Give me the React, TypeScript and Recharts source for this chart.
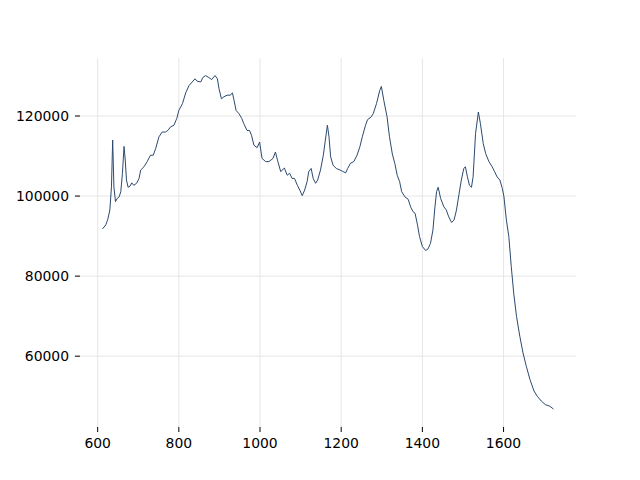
import {LineChart, Line, XAxis, YAxis, CartesianGrid} from 'recharts';

// wavelength-ish x positions and intensity values
const xValues = [
  612, 620, 625, 630, 634, 637, 640, 644, 648, 653, 657, 661, 665, 668, 671,
  675, 680, 684, 689, 696, 702, 706, 714, 722, 730, 737, 743, 751, 759, 767,
  773, 780, 788, 795, 800, 809, 817, 825, 833, 840, 845, 854, 859, 866, 874,
  881, 889, 895, 899, 905, 911, 919, 927, 932, 936, 941, 948, 955, 960, 968,
  974, 979, 985, 993, 999, 1005, 1014, 1022, 1032, 1038, 1044, 1051, 1060,
  1067, 1073, 1079, 1085, 1092, 1098, 1104, 1110, 1116, 1120, 1126, 1131,
  1137, 1142, 1149, 1156, 1161, 1166, 1170, 1174, 1180, 1188, 1197, 1203,
  1211, 1216, 1223, 1231, 1239, 1246, 1252, 1260, 1265, 1274, 1279, 1287,
  1295, 1299, 1305, 1313, 1319, 1326, 1332, 1338, 1344, 1349, 1357, 1365,
  1371, 1377, 1382, 1388, 1393, 1400, 1408, 1414, 1420, 1426, 1431, 1435,
  1439, 1445, 1453, 1459, 1465, 1472, 1478, 1484, 1490, 1496, 1502, 1506,
  1511, 1516, 1521, 1525, 1531, 1538, 1543, 1550, 1556, 1564, 1572, 1578,
  1584, 1591, 1597, 1601, 1607, 1613, 1619, 1625, 1632, 1640, 1648, 1656,
  1665, 1675, 1683, 1693, 1703, 1714, 1723,
];

const yValues = [
  91800, 92800, 94200, 96500, 102300, 114000, 102300, 98600, 99400, 99800,
  101100, 105600, 112400, 109000, 104000, 102200, 102500, 103300, 102700,
  103200, 104400, 106500, 107300, 108600, 110200, 110200, 111900, 114800,
  116000, 116000, 116400, 117300, 117700, 119400, 121400, 123100, 125800,
  127600, 128500, 129300, 128700, 128500, 129600, 130100, 129600, 129100,
  130100, 129300, 126800, 124300, 124800, 125200, 125200, 125800, 123900,
  121400, 120600, 119400, 118100, 116400, 116400, 115200, 112700, 112100,
  113500, 109400, 108600, 108600, 109400, 111000, 108600, 106100, 107000,
  105200, 105700, 104400, 104400, 102700, 101500, 100100, 101500, 103600,
  106100, 106900, 104400, 103200, 104000, 106500, 110200, 114000, 117700,
  114800, 109800, 107700, 106900, 106500, 106200, 105800, 106900, 108200,
  108600, 110200, 112300, 114800, 117700, 119100, 119800, 120600, 123100,
  126400, 127400, 123900, 119800, 114800, 110500, 108200, 105200, 103600,
  101100, 99800, 99200, 97300, 96100, 95700, 92800, 89900, 87400, 86400,
  86800, 88200, 91500, 97300, 101100, 102200, 99400, 97300, 96500, 94800,
  93400, 94000, 96500, 100300, 104000, 106900, 107300, 104800, 102700,
  102200, 104800, 115600, 121000, 118100, 113100, 110600, 108600, 107300,
  106100, 104800, 104000, 101900, 99800, 94000, 89900, 82400, 75800, 69900,
  65000, 60800, 57500, 54200, 51300, 50000, 48800, 47900, 47500, 46800,
];

const xTicks = [600, 800, 1000, 1200, 1400, 1600];
const yTicks = [60000, 80000, 100000, 120000];

const data = xValues.map((x, i) => ({x, y: yValues[i]}));

const tickStyle = {
  fontSize: 13.9,
  fill: '#000',
  fontFamily: '"DejaVu Sans", sans-serif',
};

export default function App() {
  return (
    <div style={{position: 'absolute', left: 0, top: 0, background: '#fff'}}>
      <LineChart
        width={640}
        height={480}
        data={data}
        margin={{top: 58, right: 64, left: 0, bottom: 0}}
      >
        <CartesianGrid
          stroke="#e6e6e6"
          strokeWidth={1}
          horizontalValues={yTicks}
          verticalValues={xTicks}
        />
        <XAxis
          type="number"
          dataKey="x"
          domain={[556.5, 1778.5]}
          ticks={xTicks}
          allowDataOverflow
          axisLine={false}
          tickLine={{stroke: '#000'}}
          tickSize={5}
          tickMargin={6}
          height={53}
          tick={tickStyle}
        />
        <YAxis
          type="number"
          dataKey="y"
          domain={[42310, 134490]}
          ticks={yTicks}
          allowDataOverflow
          axisLine={false}
          tickLine={{stroke: '#000'}}
          tickSize={5}
          tickMargin={6}
          width={80}
          tick={tickStyle}
        />
        <Line
          type="linear"
          dataKey="y"
          stroke="#2c4a6e"
          strokeWidth={1}
          dot={false}
          isAnimationActive={false}
        />
      </LineChart>
    </div>
  );
}
